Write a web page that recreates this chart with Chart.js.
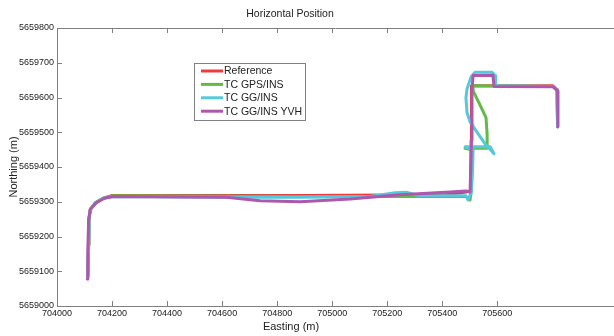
<!DOCTYPE html>
<html>
<head>
<meta charset="utf-8">
<script src="https://cdn.jsdelivr.net/npm/chart.js@4.4.0/dist/chart.umd.min.js"></script>
<style>
  html, body { margin: 0; padding: 0; background: #fff; }
  #wrap { width: 614px; height: 336px; }
</style>
</head>
<body>
<div id="wrap"><canvas id="posChart"></canvas></div>
<script>
// trajectories, easting / northing in metres
const refEast  = [704112, 704115, 704116, 704121, 704139, 704168, 704201, 704884, 705410, 705486, 705503, 705505, 705506, 705802, 705817, 705819];
const refNorth = [5659086, 5659176, 5659248, 5659277, 5659297, 5659310, 5659318, 5659318, 5659320, 5659328, 5659331, 5659478, 5659634, 5659634, 5659622, 5659516];

const gpsEast  = [704112, 704115, 704116, 704121, 704139, 704168, 704201, 704884, 705410, 705486, 705501, 705506, 705510, 705483, 705563, 705563, 705559, 705537, 705512, 705512, 705802, 705817, 705819];
const gpsNorth = [5659086, 5659176, 5659248, 5659277, 5659297, 5659310, 5659317, 5659315, 5659315, 5659315, 5659305, 5659334, 5659449, 5659454, 5659454, 5659493, 5659542, 5659579, 5659619, 5659634, 5659632, 5659622, 5659516];

const ggEast  = [704112, 704115, 704116, 704123, 704143, 704172, 704204, 704629, 704884, 705138, 705229, 705272, 705312, 705486, 705494, 705505, 705510, 705512, 705483, 705574, 705588, 705555, 705523, 705501, 705490, 705486, 705490, 705505, 705519, 705581, 705592, 705594, 705802, 705817, 705819];
const ggNorth = [5659086, 5659190, 5659254, 5659279, 5659298, 5659311, 5659315, 5659313, 5659313, 5659315, 5659326, 5659327, 5659318, 5659317, 5659305, 5659328, 5659392, 5659449, 5659458, 5659458, 5659438, 5659467, 5659504, 5659530, 5659556, 5659599, 5659625, 5659660, 5659673, 5659673, 5659663, 5659634, 5659632, 5659622, 5659516];

const yvhEast  = [704110, 704112, 704115, 704121, 704143, 704172, 704204, 704448, 704615, 704738, 704884, 705065, 705247, 705428, 705486, 705501, 705506, 705508, 705512, 705584, 705588, 705802, 705819, 705820];
const yvhNorth = [5659078, 5659161, 5659248, 5659279, 5659297, 5659310, 5659315, 5659314, 5659313, 5659303, 5659300, 5659308, 5659320, 5659328, 5659331, 5659328, 5659478, 5659622, 5659663, 5659664, 5659632, 5659631, 5659619, 5659516];

const seriesNames  = ['Reference', 'TC GPS/INS', 'TC GG/INS', 'TC GG/INS YVH'];
const seriesColors = ['#ec3a3f', '#62bb46', '#55c8dc', '#ad57ad'];

const eastTicks  = [704000, 704200, 704400, 704600, 704800, 705000, 705200, 705400, 705600];
const northTicks = [5659000, 5659100, 5659200, 5659300, 5659400, 5659500, 5659600, 5659700, 5659800];

function toPoints(xs, ys) {
    return xs.map((x, i) => ({ x: x, y: ys[i] }));
}

const tracks = [
    toPoints(refEast, refNorth),
    toPoints(gpsEast, gpsNorth),
    toPoints(ggEast, ggNorth),
    toPoints(yvhEast, yvhNorth)
];

// axes frame, inward ticks, titles and boxed legend
const frameText = {
    id: 'frameText',
    afterDraw(chart) {
        const ctx = chart.ctx;
        const area = chart.chartArea;
        const xs = chart.scales.x, ys = chart.scales.y;
        ctx.save();
        ctx.strokeStyle = '#808080';
        ctx.lineWidth = 1;
        ctx.beginPath();
        ctx.moveTo(area.left, area.top + 0.5);
        ctx.lineTo(area.right, area.top + 0.5);
        xs.ticks.forEach(t => {
            const px = Math.round(xs.getPixelForValue(t.value)) + 0.5;
            ctx.moveTo(px, area.bottom);
            ctx.lineTo(px, area.bottom - 5);
            ctx.moveTo(px, area.top);
            ctx.lineTo(px, area.top + 5);
        });
        ys.ticks.forEach(t => {
            const py = Math.round(ys.getPixelForValue(t.value)) + 0.5;
            ctx.moveTo(area.left, py);
            ctx.lineTo(area.left + 5, py);
        });
        ctx.stroke();

        ctx.fillStyle = '#222';
        ctx.textAlign = 'center';
        ctx.textBaseline = 'middle';
        ctx.font = '10.5px Arial, "Liberation Sans"';
        ctx.fillText('Horizontal Position', 290, 14);
        ctx.font = '11px Arial, "Liberation Sans"';
        ctx.fillText('Easting (m)', 291, 327);
        ctx.save();
        ctx.translate(14, (area.top + area.bottom) / 2);
        ctx.rotate(-Math.PI / 2);
        ctx.fillText('Northing (m)', 0, 0);
        ctx.restore();

        // legend
        const lx = 194.5, ly = 63.5, lw = 111, lh = 57;
        ctx.fillStyle = '#fff';
        ctx.fillRect(lx, ly, lw, lh);
        ctx.strokeStyle = '#808080';
        ctx.strokeRect(lx, ly, lw, lh);
        ctx.font = '10.5px Arial, "Liberation Sans"';
        ctx.textAlign = 'left';
        chart.data.datasets.forEach((ds, i) => {
            const ry = 71 + i * 13.4;
            ctx.strokeStyle = ds.borderColor;
            ctx.lineWidth = 3;
            ctx.beginPath();
            ctx.moveTo(201, ry);
            ctx.lineTo(223, ry);
            ctx.stroke();
            ctx.fillStyle = '#222';
            ctx.fillText(ds.label, 224, ry + 0.5);
        });
        ctx.restore();
    }
};

const tickFont = { family: 'Arial, "Liberation Sans"', size: 9 };

new Chart(document.getElementById('posChart'), {
    type: 'scatter',
    data: {
        datasets: tracks.map((pts, i) => ({
            label: seriesNames[i],
            data: pts,
            showLine: true,
            borderColor: seriesColors[i],
            backgroundColor: seriesColors[i],
            borderWidth: 3,
            pointRadius: 0,
            borderJoinStyle: 'round',
            borderCapStyle: 'round',
            order: 3 - i
        }))
    },
    options: {
        responsive: true,
        maintainAspectRatio: false,
        animation: false,
        layout: { padding: { top: 28, right: 0, bottom: 0, left: 0 } },
        plugins: {
            legend: { display: false },
            title: { display: false },
            tooltip: { enabled: false }
        },
        scales: {
            x: {
                type: 'linear',
                min: 704000,
                max: 706024,
                afterBuildTicks: s => { s.ticks = eastTicks.map(v => ({ value: v })); },
                afterFit: s => { s.height = 30; },
                ticks: {
                    autoSkip: false,
                    maxRotation: 0,
                    padding: 2,
                    color: '#222',
                    font: tickFont,
                    callback: v => String(v)
                },
                grid: { display: false, drawTicks: false },
                border: { display: true, color: '#808080' }
            },
            y: {
                type: 'linear',
                min: 5659000,
                max: 5659800,
                afterBuildTicks: s => { s.ticks = northTicks.map(v => ({ value: v })); },
                afterFit: s => { s.width = 57; },
                ticks: {
                    padding: 3,
                    color: '#222',
                    font: tickFont,
                    callback: v => String(v)
                },
                grid: { display: false, drawTicks: false },
                border: { display: true, color: '#808080' }
            }
        }
    },
    plugins: [frameText]
});
</script>
</body>
</html>
